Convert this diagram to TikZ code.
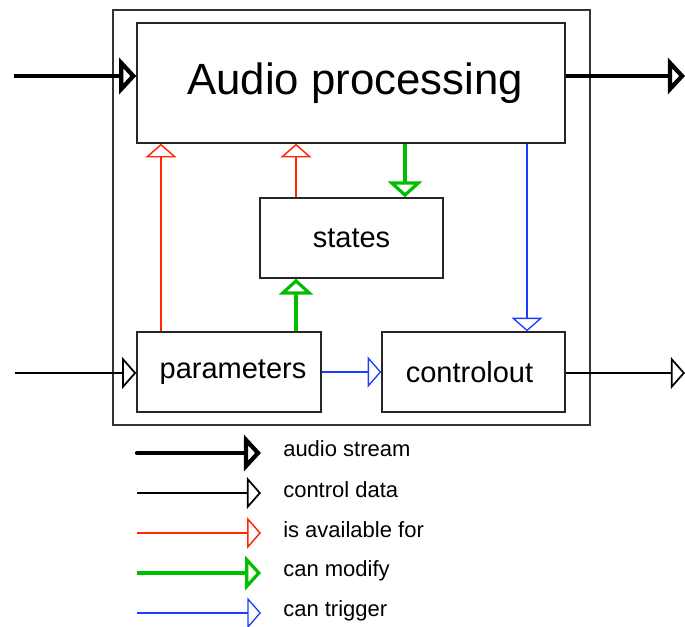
\documentclass[tikz,border=0pt]{standalone}
\usepackage{fontspec}
\setmainfont{Liberation Sans}
\usetikzlibrary{arrows.meta}
\definecolor{cred}{RGB}{255,40,0}
\definecolor{cgreen}{RGB}{0,190,0}
\definecolor{cblue}{RGB}{30,60,255}
\tikzset{
  box/.style={draw=black!85, line width=1.1pt, rectangle, inner sep=0pt},
  tri/.style={-{Triangle[open, length=9pt 1.2, width=21.5pt 1.7]}},
  audio/.style={tri, line width=3.2pt, draw=black},
  ctrl/.style={tri, line width=1.3pt, draw=black},
  avail/.style={tri, line width=1.1pt, draw=cred},
  modify/.style={tri, line width=2.4pt, draw=cgreen},
  trigger/.style={tri, line width=1pt, draw=cblue},
  legtext/.style={anchor=west, font=\fontsize{16.5}{18}\selectfont, inner sep=0pt},
}
\begin{document}
\begin{tikzpicture}[x=0.75pt, y=-0.75pt]
\useasboundingbox (0,0) rectangle (685,627);
% boxes
\node[draw=black!80, line width=0.8pt, minimum width=477*0.75pt, minimum height=415*0.75pt, inner sep=0pt] (outer) at (351.5,217.5) {};
\node[box, minimum width=428*0.75pt, minimum height=120*0.75pt, font=\fontsize{32.8}{36}\selectfont] (audio) at (351,83) {\hspace*{6pt}Audio processing\raisebox{-2pt}{}};
\node[box, minimum width=183*0.75pt, minimum height=80*0.75pt, font=\fontsize{21.75}{24}\selectfont] (states) at (351.5,238) {states};
\node[box, minimum width=184*0.75pt, minimum height=80*0.75pt, font=\fontsize{21.75}{24}\selectfont] (params) at (229,372) {\hspace*{6pt}parameters};
\node[box, minimum width=183*0.75pt, minimum height=80*0.75pt, font=\fontsize{21.75}{24}\selectfont] (cout) at (473.5,372) {controlout\hspace*{6pt}};
% external connectors
\coordinate (ain) at (14,76);
\coordinate (aout) at (685,76);
\coordinate (cin) at (15,373);
\coordinate (cend) at (685,373);
\draw[audio] (ain) -- (ain -| audio.west);
\draw[audio] (aout -| audio.east) -- (aout);
\draw[ctrl] (cin) -- (cin -| params.west);
\draw[ctrl] (cend -| cout.east) -- (cend);
% internal connectors
\coordinate (r1) at ([shift={(-68,0)}]params.north);
\coordinate (s2) at ([shift={(-55.5,0)}]states.north);
\coordinate (g1) at ([shift={(53.5,0)}]states.north);
\coordinate (b1) at ([shift={(53.5,0)}]cout.north);
\draw[avail] (r1) -- (r1 |- audio.south);
\draw[avail] (s2) -- (s2 |- audio.south);
\draw[modify] (g1 |- audio.south) -- (g1);
\draw[modify] (s2 |- params.north) -- (s2 |- states.south);
\draw[trigger] (b1 |- audio.south) -- (b1);
\draw[trigger] (params.east) -- (params.east -| cout.west);
% legend
\coordinate (la1) at (137,453); \coordinate (lb1) at (261,453);
\coordinate (la2) at (137,493); \coordinate (lb2) at (261,493);
\coordinate (la3) at (137,533); \coordinate (lb3) at (261,533);
\coordinate (la4) at (137,573); \coordinate (lb4) at (261,573);
\coordinate (la5) at (137,613); \coordinate (lb5) at (261,613);
\draw[audio, line cap=round] (la1) -- (lb1);
\draw[ctrl] (la2) -- (lb2);
\draw[avail] (la3) -- (lb3);
\draw[modify] (la4) -- (lb4);
\draw[trigger] (la5) -- (lb5);
\node[legtext] (t1) at (283,449) {audio stream};
\node[legtext] (t2) at (283,490) {control data};
\node[legtext] (t3) at (283,530) {is available for};
\node[legtext] (t4) at (283,571) {can modify};
\node[legtext] (t5) at (283,611) {can trigger};
\end{tikzpicture}
\end{document}
